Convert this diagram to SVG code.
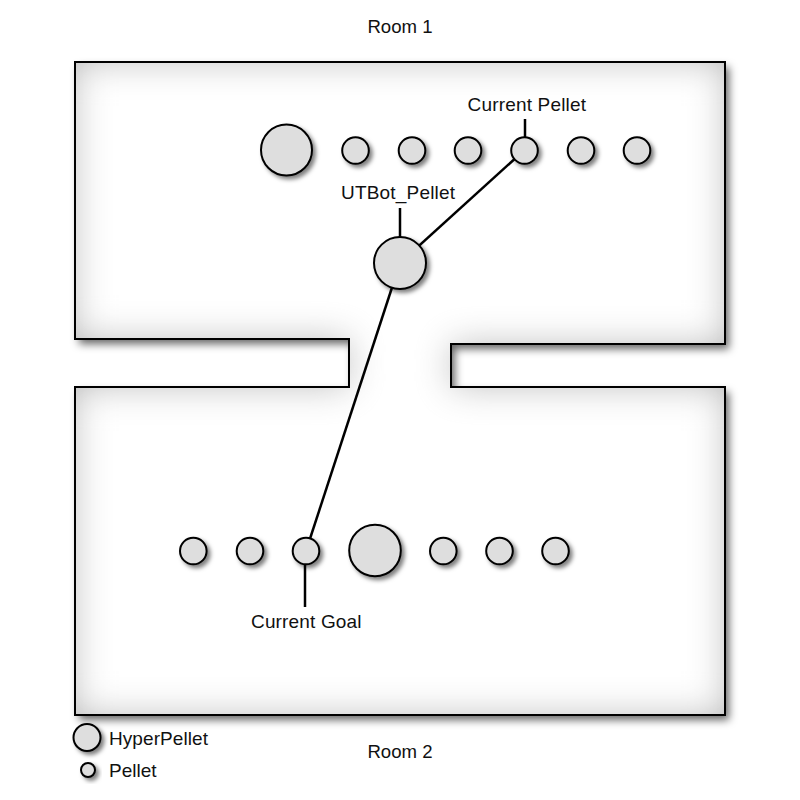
<svg xmlns="http://www.w3.org/2000/svg" width="800" height="800" viewBox="0 0 800 800">
<defs>
<style>
.lbl{font-family:"Liberation Sans",Arial,sans-serif;font-size:19px;fill:#111}
.room{font-family:"Liberation Sans",Arial,sans-serif;font-size:18.6px;fill:#111}
.p{fill:#dedede;stroke:#000;stroke-width:2;filter:url(#ps)}
.ln{stroke:#000;stroke-width:2.5;fill:none}
.wall{fill:none;stroke:#000;stroke-width:2;stroke-linejoin:miter}
</style>
<filter id="roomf" x="-12%" y="-12%" width="124%" height="124%">
<feFlood flood-color="#000" flood-opacity="0.6" result="f"/>
<feComposite in="f" in2="SourceAlpha" operator="in" result="sh"/>
<feGaussianBlur in="sh" stdDeviation="4"/>
<feOffset dx="4" dy="5" result="drop"/>
<feFlood flood-color="#b8b8b8" result="g"/>
<feComposite in="g" in2="SourceAlpha" operator="out" result="outside"/>
<feGaussianBlur in="outside" stdDeviation="18" result="ob"/>
<feComposite in="ob" in2="SourceAlpha" operator="in" result="inner"/>
<feMerge><feMergeNode in="drop"/><feMergeNode in="SourceGraphic"/><feMergeNode in="inner"/></feMerge>
</filter>
<filter id="ps" x="-40%" y="-40%" width="190%" height="190%">
<feDropShadow dx="3" dy="3" stdDeviation="2" flood-color="#000" flood-opacity="0.5"/>
</filter>
</defs>
<rect width="800" height="800" fill="#fff"/>
<g id="rooms">
<path id="room-shape" d="M75,62 H725 V344 H451 V387 H725 V715 H75 V387 H349 V339 H75 Z" fill="#fff" filter="url(#roomf)"/>
<path class="wall" d="M75,62 H725 V344 H451 V387 H725 V715 H75 V387 H349 V339 H75 Z"/>
<text class="room" x="400" y="33" text-anchor="middle">Room 1</text>
<text class="room" x="400" y="758" text-anchor="middle">Room 2</text>
</g>
<g id="connectors">
<line class="ln" x1="400" y1="263" x2="524.5" y2="150"/>
<line class="ln" x1="400" y1="263" x2="306" y2="551"/>
<line class="ln" x1="525" y1="119" x2="525" y2="137"/>
<line class="ln" x1="400" y1="208" x2="400" y2="237"/>
<line class="ln" x1="305" y1="564" x2="305" y2="607"/>
</g>
<g id="room1-pellets">
<circle id="hp1" class="p" cx="286.5" cy="150" r="25.5"/>
<circle id="p1" class="p" cx="355.5" cy="150.5" r="13.3"/>
<circle id="p2" class="p" cx="412" cy="150.5" r="13.3"/>
<circle id="p3" class="p" cx="468" cy="150.5" r="13.3"/>
<circle id="p5" class="p" cx="581" cy="150.5" r="13.3"/>
<circle id="p6" class="p" cx="637" cy="150.5" r="13.3"/>
</g>
<g id="current-pellet">
<circle class="p" cx="524.5" cy="150.5" r="13.3"/>
<text class="lbl" x="467.5" y="110.7" textLength="118.5">Current Pellet</text>
</g>
<g id="utbot-pellet">
<circle class="p" cx="400" cy="263" r="26"/>
<text class="lbl" x="341" y="199" textLength="114">UTBot_Pellet</text>
</g>
<g id="room2-pellets">
<circle id="q1" class="p" cx="193.3" cy="551" r="13.3"/>
<circle id="q2" class="p" cx="250" cy="551" r="13.3"/>
<circle id="hp2" class="p" cx="375" cy="550.5" r="25.8"/>
<circle id="q4" class="p" cx="443.3" cy="551" r="13.3"/>
<circle id="q5" class="p" cx="499.5" cy="551" r="13.3"/>
<circle id="q6" class="p" cx="555.5" cy="551" r="13.3"/>
</g>
<g id="current-goal">
<circle class="p" cx="306" cy="551" r="13.3"/>
<text class="lbl" x="251" y="628.3" textLength="110.5">Current Goal</text>
</g>
<g id="legend">
<circle class="p" cx="87" cy="737.5" r="13.5"/>
<text class="lbl" x="109" y="745" textLength="99">HyperPellet</text>
<circle class="p" cx="88" cy="770" r="7"/>
<text class="lbl" x="109" y="776.7" textLength="47.5">Pellet</text>
</g>
</svg>
